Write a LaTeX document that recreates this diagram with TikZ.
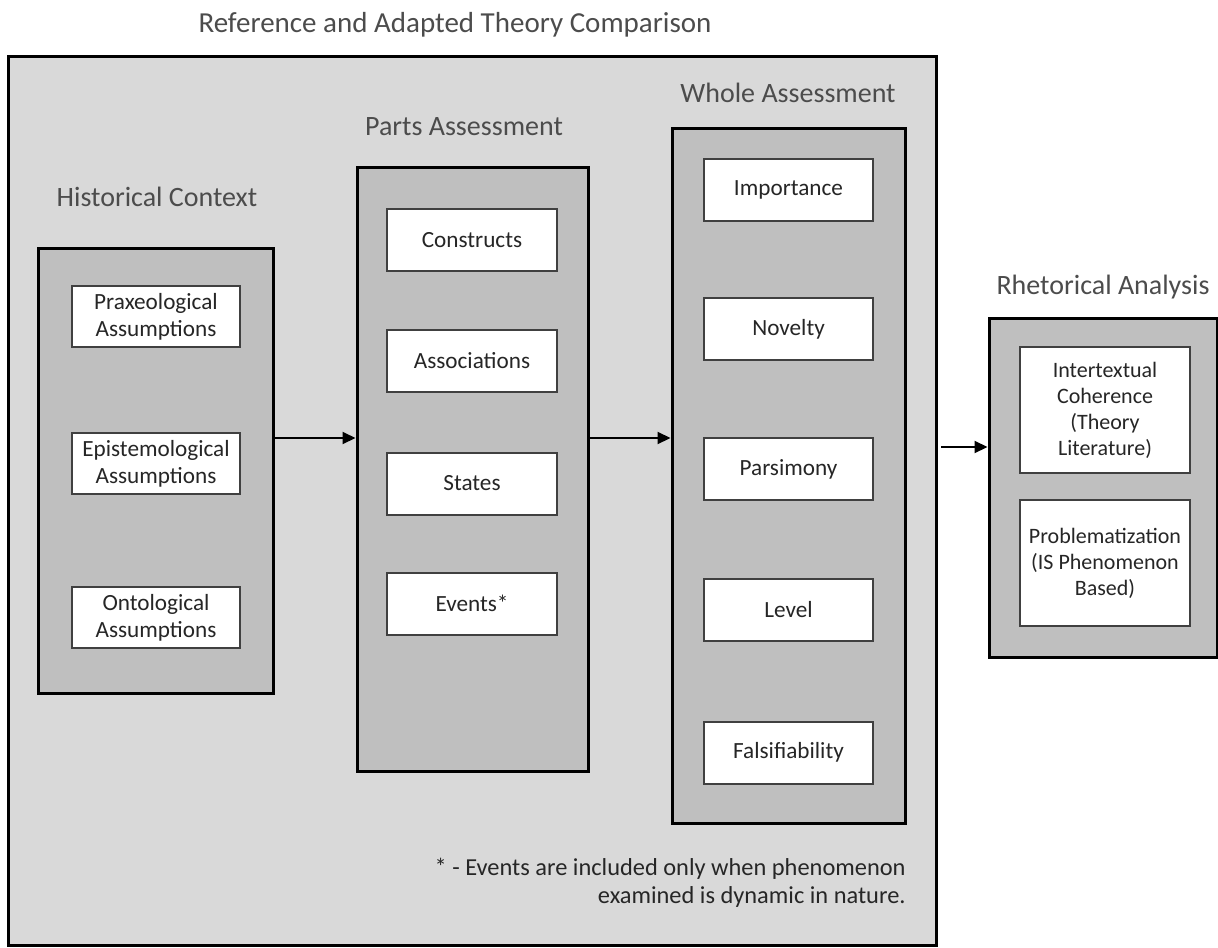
\documentclass[tikz,border=0pt]{standalone}
\usepackage{fontspec}
\setmainfont{Carlito}
\usetikzlibrary{arrows.meta}

\begin{document}
\begin{tikzpicture}[x=0.5pt, y=-0.5pt, >={Triangle[length=6.5pt,width=6pt]},
    grp/.style={draw=black, line width=1.5pt, fill=black!25, inner sep=0pt},
    itm/.style={draw=black!75, line width=1pt, fill=white, align=center, inner sep=0pt,
        text=black!85, font=\fontsize{11.6}{13.5}\selectfont},
    lbl/.style={text=black!70, font=\fontsize{14}{16}\selectfont},
    arr/.style={->, line width=1pt}]
        \useasboundingbox (0,0) rectangle (1218,947);

        % Khung ngoài
        \node[draw=black, line width=1.5pt, fill=black!15, inner sep=0pt,
            minimum width=464pt, minimum height=444pt] (frame) at (472,501) {};
        \node[lbl, font=\fontsize{14.5}{16}\selectfont] (title) at (455,25) {Reference and Adapted Theory Comparison};

        % Historical Context
        \node[lbl] (histlbl) at (157,197) {Historical Context};
        \node[grp, minimum width=117.5pt, minimum height=222.5pt] (hist) at (155.5,470.5) {};
        \node[itm, minimum width=84pt, minimum height=30.5pt] (prax) at (156,316.5) {Praxeological\\Assumptions};
        \node[itm, minimum width=84pt, minimum height=30.5pt] (epis) at (156,463.5) {Epistemological\\Assumptions};
        \node[itm, minimum width=84pt, minimum height=30.5pt] (onto) at (156,617.5) {Ontological\\Assumptions};

        % Parts Assessment
        \node[lbl] (partslbl) at (464,127) {Parts Assessment};
        \node[grp, minimum width=115.5pt, minimum height=302pt] (parts) at (472.5,469) {};
        \node[itm, minimum width=85pt, minimum height=31pt] (cons) at (472,240) {Constructs};
        \node[itm, minimum width=85pt, minimum height=31pt] (asso) at (472,360.5) {Associations};
        \node[itm, minimum width=85pt, minimum height=31pt] (stat) at (472,483.5) {States};
        \node[itm, minimum width=85pt, minimum height=31pt] (even) at (472,603.5) {Events*};

        % Whole Assessment
        \node[lbl] (wholelbl) at (788,93) {Whole Assessment};
        \node[grp, minimum width=116.5pt, minimum height=347.5pt] (whole) at (788.5,475.5) {};
        \node[itm, minimum width=84.5pt, minimum height=31pt] (impo) at (788.5,190) {Importance};
        \node[itm, minimum width=84.5pt, minimum height=31pt] (nove) at (788.5,329) {Novelty};
        \node[itm, minimum width=84.5pt, minimum height=31pt] (pars) at (788.5,469) {Parsimony};
        \node[itm, minimum width=84.5pt, minimum height=31pt] (leve) at (788.5,609.5) {Level};
        \node[itm, minimum width=84.5pt, minimum height=31pt] (fals) at (788.5,752.5) {Falsifiability};

        % Rhetorical Analysis
        \node[lbl] (rhetlbl) at (1103,287) {Rhetorical Analysis};
        \node[grp, minimum width=114pt, minimum height=169.5pt] (rhet) at (1103,487.5) {};
        \node[itm, minimum width=85pt, minimum height=63pt, font=\fontsize{11}{13}\selectfont] (inte) at (1105,410) {Intertextual\\Coherence\\(Theory\\Literature)};
        \node[itm, minimum width=85pt, minimum height=63pt, font=\fontsize{11}{13}\selectfont] (prob) at (1105,563) {Problematization\\(IS Phenomenon\\Based)};

        % Mũi tên
        \coordinate (lvl) at (0,438);
        \coordinate (tail) at (941,447);
        \draw[arr] (hist.east |- lvl) -- (parts.west |- lvl);
        \draw[arr] (parts.east |- lvl) -- (whole.west |- lvl);
        \draw[arr] (tail) -- (rhet.west |- tail);

        % Chú thích
        \node[anchor=east, align=right, inner sep=0pt, text=black!85,
            font=\fontsize{12.2}{14}\selectfont] (note) at (906,883)
            {* - Events are included only when phenomenon\\examined is dynamic in nature.};
    \end{tikzpicture}
\end{document}
